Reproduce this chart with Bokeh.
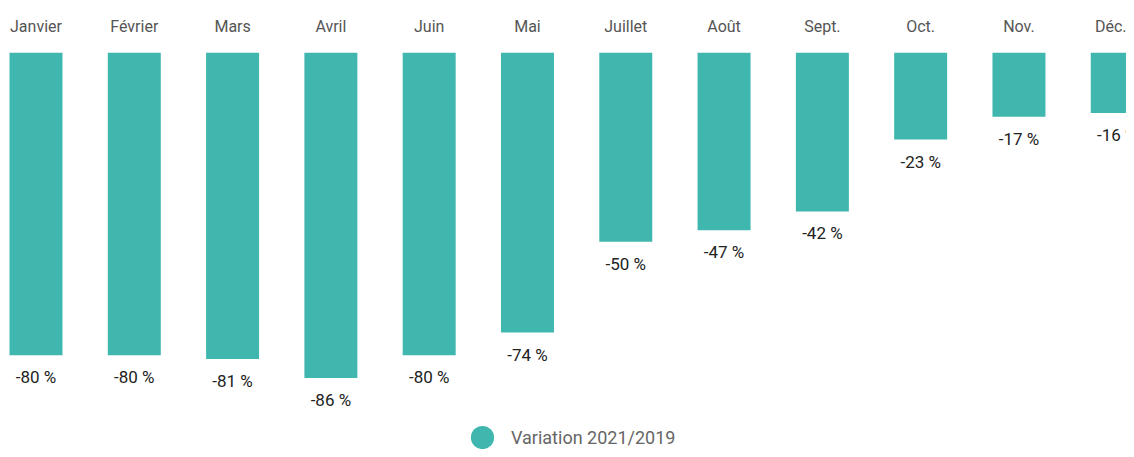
from bokeh.plotting import figure
from bokeh.models import (ColumnDataSource, Range1d, LinearAxis, FixedTicker,
                          Legend, LegendItem)
from bokeh.core.properties import value
from bokeh.embed import file_html
from bokeh.resources import INLINE

months = ["Janvier", "Février", "Mars", "Avril", "Juin", "Mai", "Juillet",
          "Août", "Sept.", "Oct.", "Nov.", "Déc."]
variation = [-80, -80, -81, -86, -80, -74, -50, -47, -42, -23, -17, -16]
series_name = "Variation 2021/2019"

BAR = "#3fb7af"
idx = list(range(len(months)))
src = ColumnDataSource(dict(x=idx, v=variation, lab=[f"{v} %" for v in variation]))

p = figure(width=1126, height=449, output_backend="svg", toolbar_location=None,
           x_axis_type=None, y_axis_type=None,
           x_range=Range1d(-0.3611, 11.094), y_range=Range1d(-104.9, 0),
           min_border_left=0, min_border_right=0, min_border_bottom=0,
           min_border_top=52)
p.outline_line_color = None
p.grid.visible = False
p.background_fill_color = None
p.border_fill_color = None

p.vbar(x="x", top="v", bottom=0, width=0.539, source=src,
       fill_color=BAR, line_color=None)
p.text(x="x", y="v", text="lab", source=src, y_offset=22,
       text_align="center", text_baseline="middle",
       text_font=value("Roboto"), text_font_size="17px", text_color="#222222")

dot = p.scatter(x="x", y="v", source=src, marker="circle", size=10,
                fill_color=BAR, line_color=None, visible=False)

ax = LinearAxis(ticker=FixedTicker(ticks=idx),
                major_label_overrides={i: m for i, m in enumerate(months)})
ax.axis_line_color = None
ax.major_tick_line_color = None
ax.minor_tick_line_color = None
ax.major_tick_out = 0
ax.major_label_standoff = 17
ax.major_label_text_font = "Roboto"
ax.major_label_text_font_size = "16px"
ax.major_label_text_color = "#555555"
p.add_layout(ax, "above")

legend = Legend(items=[LegendItem(label=series_name, renderers=[dot])],
                location=(453, -17), glyph_width=58, glyph_height=58,
                label_standoff=0, padding=0, margin=0,
                border_line_color=None, background_fill_alpha=0,
                label_text_font="Roboto", label_text_font_size="18px",
                label_text_color="#666666", label_text_baseline="middle")
p.add_layout(legend, "center")

open("out.html", "w").write(file_html(p, INLINE))
